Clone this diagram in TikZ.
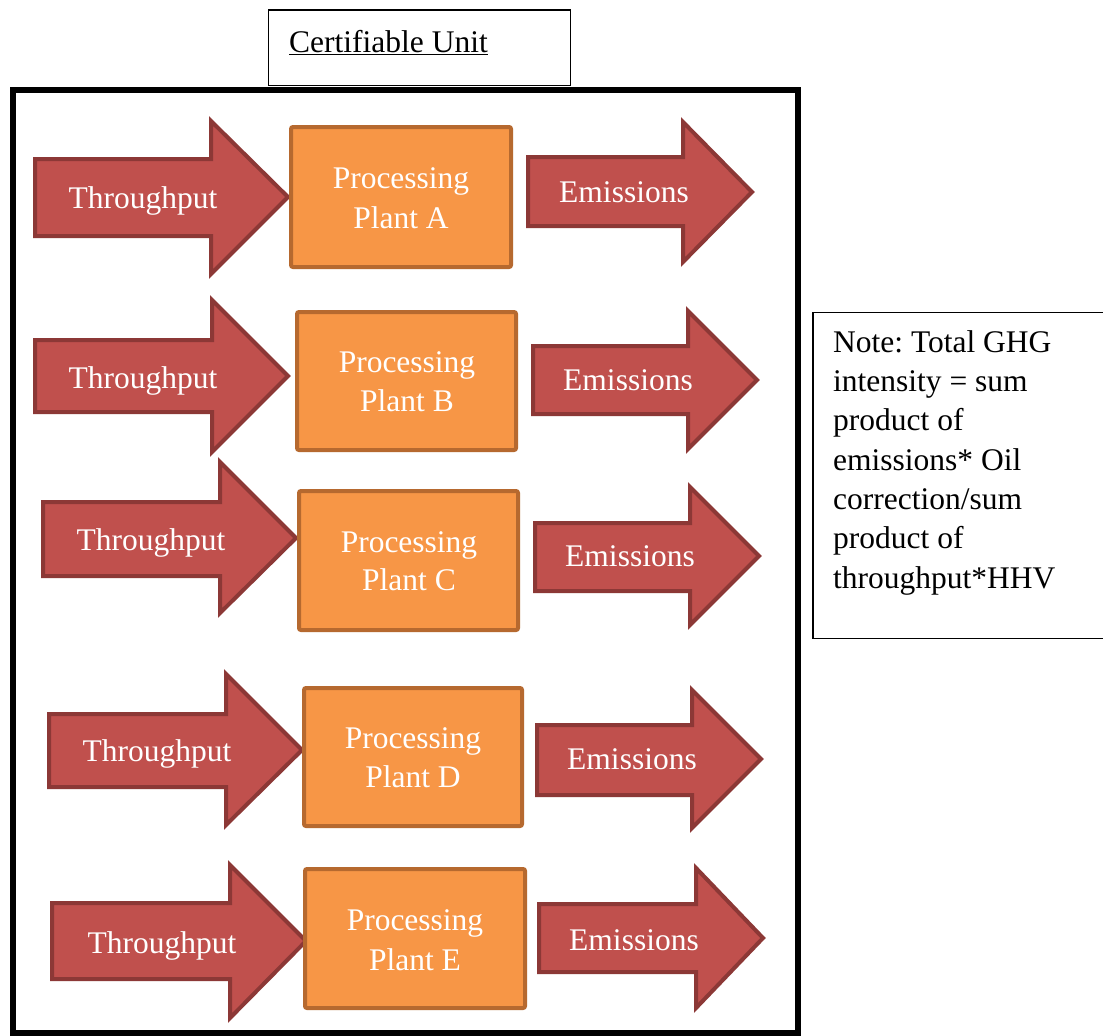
\documentclass[tikz,border=0pt]{standalone}
\usepackage{fontspec}
\setmainfont{Liberation Serif}
\frenchspacing
\definecolor{arrfill}{HTML}{C0504D}
\definecolor{arrline}{HTML}{8C3836}
\definecolor{boxfill}{HTML}{F79646}
\definecolor{boxline}{HTML}{B6692F}
\tikzset{
  arrowshape/.style={fill=arrfill, draw=arrline, line width=4pt, line join=miter},
  plantbox/.style={fill=boxfill, draw=boxline, line width=4pt, rounded corners=2pt},
  wlabel/.style={text=white, font=\fontsize{31.5}{38}\selectfont, inner sep=0pt, anchor=base},
  blabel/.style={text=black, font=\fontsize{31.5}{39.3}\selectfont, inner sep=0pt},
}
% #1 left, #2 shaft top, #3 shaft bottom, #4 head base, #5 head top, #6 head bottom, #7 tip x, #8 tip y
\newcommand{\fatarrow}[8]{%
  \draw[arrowshape] (#1,#2) -- (#4,#2) -- (#4,#5) -- (#7,#8) -- (#4,#6) -- (#4,#3) -- (#1,#3) -- cycle;}
\begin{document}
\begin{tikzpicture}[x=1pt,y=-1pt]
\useasboundingbox (0,0) rectangle (1103,1036);
\fill[white] (0,0) rectangle (1103,1036);

% title box
\draw[line width=1.3pt] (268.5,10) rectangle (570.5,85.5);
\node[blabel, anchor=base west] (title) at (289,52) {\underline{Certifiable Unit}};

% main frame
\draw[line width=6pt] (12.5,90) rectangle (798,1033);

% note box
\draw[line width=1.3pt] (813,312.5) rectangle (1110,638.5);
\node[blabel, anchor=base west, align=left] (note) at (833,588) {Note: Total GHG\\intensity = sum\\product of\\emissions* Oil\\correction/sum\\product of\\throughput*HHV};

% Row A
\fatarrow{35}{159}{236}{211}{121}{274}{288}{197}
\fatarrow{528}{157}{226}{683}{122}{262}{752}{192}
\draw[plantbox] (291,127) rectangle (511,267);
\node[wlabel] (tA) at (143,208) {Throughput};
\node[wlabel] (pA1) at (401,188) {Processing};
\node[wlabel] (pA2) at (401,228) {Plant A};
\node[wlabel] (eA) at (624,202) {Emissions};

% Row B
\fatarrow{35}{340}{412}{212}{300}{452}{288}{376}
\fatarrow{533}{346}{414}{688}{311}{449}{757}{380}
\draw[plantbox] (297,312) rectangle (516,450);
\node[wlabel] (tB) at (143,388) {Throughput};
\node[wlabel] (pB1) at (407,372) {Processing};
\node[wlabel] (pB2) at (407,411) {Plant B};
\node[wlabel] (eB) at (628,390) {Emissions};

% Row C
\fatarrow{43}{502}{576}{220}{462}{613}{296}{538}
\fatarrow{535}{523}{591}{690}{487}{625}{759}{556}
\draw[plantbox] (299,491) rectangle (518,630);
\node[wlabel] (tC) at (151,550) {Throughput};
\node[wlabel] (pC1) at (409,552) {Processing};
\node[wlabel] (pC2) at (409,590) {Plant C};
\node[wlabel] (eC) at (630,566) {Emissions};

% Row D
\fatarrow{49}{714}{787}{226}{674}{825}{302}{750}
\fatarrow{537}{725}{795}{692}{690}{828}{761}{759}
\draw[plantbox] (304,688) rectangle (522,826);
\node[wlabel] (tD) at (157,761) {Throughput};
\node[wlabel] (pD1) at (413,748) {Processing};
\node[wlabel] (pD2) at (413,787) {Plant D};
\node[wlabel] (eD) at (632,769) {Emissions};

% Row E
\fatarrow{52}{903}{979}{230}{865}{1018}{306}{941}
\fatarrow{539}{904}{972}{696}{868}{1008}{763}{938}
\draw[plantbox] (305,869) rectangle (525,1008);
\node[wlabel] (tE) at (162,953) {Throughput};
\node[wlabel] (pE1) at (415,930) {Processing};
\node[wlabel] (pE2) at (415,970) {Plant E};
\node[wlabel] (eE) at (634,950) {Emissions};
\end{tikzpicture}
\end{document}
